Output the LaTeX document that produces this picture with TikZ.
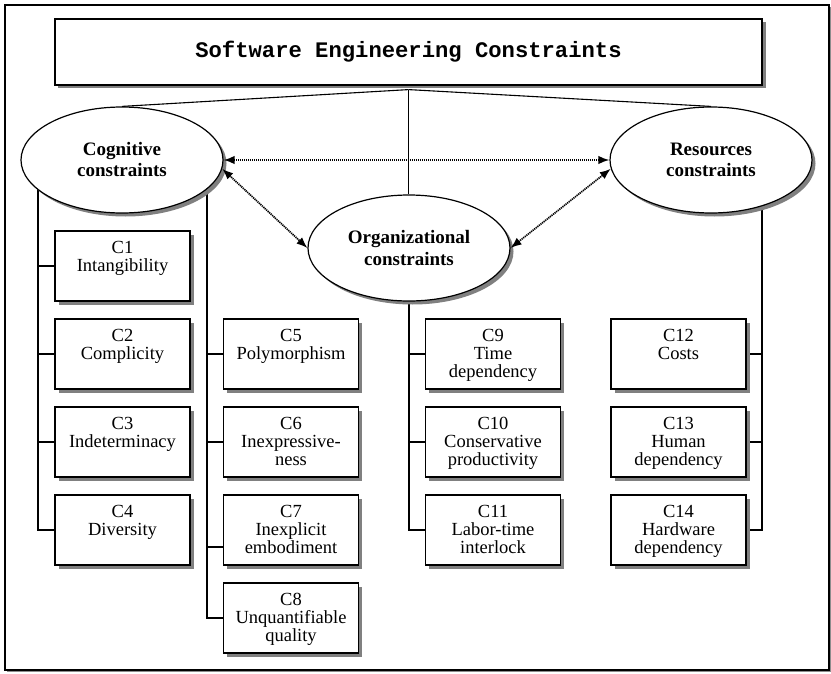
\documentclass[tikz,border=0pt]{standalone}
\usepackage{fontspec}
\setmainfont{Liberation Serif}
\newfontfamily\titlefont{Liberation Mono}
\usetikzlibrary{shapes.geometric,shadows,arrows.meta,backgrounds}

% text of a constraint box: fixed 135x70 box, lines set from the top
\newcommand\ctext[1]{\parbox[c][70bp][t]{135bp}{\centering\vspace*{10.5bp}#1}}

\tikzset{
  softshadow/.style={drop shadow={shadow xshift=3.5bp, shadow yshift=-3.5bp, fill=black!50, opacity=1}},
  cbox/.style={rectangle, draw, line width=1.2bp, fill=white, softshadow, inner sep=0pt,
    font=\fontsize{18.5bp}{18bp}\selectfont},
  cluster/.style={ellipse, draw, line width=1.2bp, fill=white, softshadow,
    minimum width=202bp, minimum height=106bp, inner sep=0pt, align=center,
    font=\fontsize{19bp}{21bp}\selectfont\bfseries},
  headbox/.style={rectangle, draw, line width=1.2bp, fill=white, softshadow,
    minimum width=707bp, minimum height=66bp, inner sep=0pt,
    font=\titlefont\bfseries\fontsize{22.2bp}{26bp}\selectfont},
  wire/.style={line width=1.1bp},
  assoc/.style={line width=1.7bp, dash pattern=on 1.2bp off 0.8bp,
    {Latex[length=11bp,width=8.5bp]}-{Latex[length=11bp,width=8.5bp]}},
}

\begin{document}
\begin{tikzpicture}[x=1bp, y=-1bp]
\useasboundingbox (0,0) rectangle (831,674);

% title
\node[headbox] (title) at (408.5,52) {Software Engineering Constraints};

% constraint groups
\node[cluster] (cog) at (122,160) {Cognitive\\constraints};
\node[cluster] (org) at (409,248) {Organizational\\constraints};
\node[cluster] (res) at (711,160) {Resources\\constraints};

% cognitive constraints
\node[cbox] (c1) at (122.5,266) {\ctext{C1\\Intangibility}};
\node[cbox] (c2) at (122.5,354) {\ctext{C2\\Complicity}};
\node[cbox] (c3) at (122.5,442) {\ctext{C3\\Indeterminacy}};
\node[cbox] (c4) at (122.5,530) {\ctext{C4\\Diversity}};
\node[cbox] (c5) at (291,354) {\ctext{C5\\Polymorphism}};
\node[cbox] (c6) at (291,442) {\ctext{C6\\Inexpressive-\\ness}};
\node[cbox] (c7) at (291,530) {\ctext{C7\\Inexplicit\\embodiment}};
\node[cbox] (c8) at (291,618) {\ctext{C8\\Unquantifiable\\quality}};

% organizational constraints
\node[cbox] (c9)  at (493,354) {\ctext{C9\\Time\\dependency}};
\node[cbox] (c10) at (493,442) {\ctext{C10\\Conservative\\productivity}};
\node[cbox] (c11) at (493,530) {\ctext{C11\\Labor-time\\interlock}};

% resources constraints
\node[cbox] (c12) at (678.5,354) {\ctext{C12\\Costs}};
\node[cbox] (c13) at (678.5,442) {\ctext{C13\\Human\\dependency}};
\node[cbox] (c14) at (678.5,530) {\ctext{C14\\Hardware\\dependency}};

% trunk tops (hidden inside the ellipses)
\coordinate (cl) at (38,160);
\coordinate (cr) at (207,160);
\coordinate (rr) at (762,160);
\coordinate (apex) at ([yshift=-4bp]title.south);

\begin{scope}[on background layer]
  % outer frame
  \draw[line width=1.1bp, fill=white,
        drop shadow={shadow xshift=2bp, shadow yshift=-2bp, fill=black!45, opacity=1}]
    (5,5) rectangle (829,670);

  \draw[wire] (cl) |- (c4.west);
  \draw[wire] (cl |- c1.west) -- (c1.west);
  \draw[wire] (cl |- c2.west) -- (c2.west);
  \draw[wire] (cl |- c3.west) -- (c3.west);

  \draw[wire] (cr) |- (c8.west);
  \draw[wire] (cr |- c5.west) -- (c5.west);
  \draw[wire] (cr |- c6.west) -- (c6.west);
  \draw[wire] ([yshift=-17bp]cr |- c7.west) -- ([yshift=-17bp]c7.west);

  \draw[wire] (org.south) |- (c11.west);
  \draw[wire] (org.south |- c9.west) -- (c9.west);
  \draw[wire] (org.south |- c10.west) -- (c10.west);

  \draw[wire] (rr) |- (c14.east);
  \draw[wire] (rr |- c12.east) -- (c12.east);
  \draw[wire] (rr |- c13.east) -- (c13.east);
\end{scope}

% title to groups
\draw[wire] (apex) -- (cog.north);
\draw[wire] (apex) -- (res.north);
\draw[wire] (apex) -- (apex |- org.north);

% relations between groups
\draw[assoc] (cog.east) -- (res.west);
\draw[assoc] (cog.-5) -- (org.west);
\draw[assoc] (org.east) -- (res.-175);

\end{tikzpicture}
\end{document}
